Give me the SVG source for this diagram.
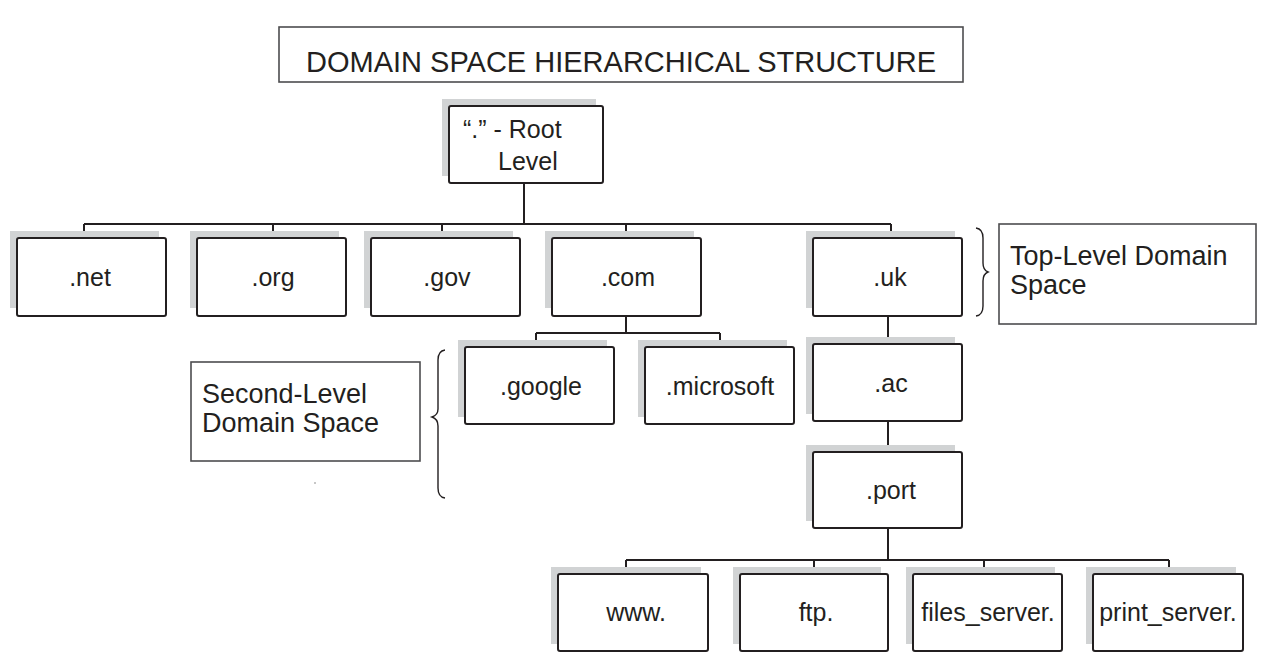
<svg xmlns="http://www.w3.org/2000/svg" width="1263" height="663" viewBox="0 0 1263 663">
<style>
.bg{fill:#ffffff}
.sh{fill:#d1d3d4}
.bx{fill:#ffffff;stroke:#231f20;stroke-width:2}
.lb{fill:#ffffff;stroke:#4d4d4f;stroke-width:1.6}
.t{font-family:"Liberation Sans",Arial,sans-serif;font-size:25px;fill:#231f20}
.tl{font-family:"Liberation Sans",Arial,sans-serif;font-size:27px;fill:#231f20}
.c{text-anchor:middle}
.ln{fill:none;stroke:#231f20;stroke-width:2}
.br{fill:none;stroke:#231f20;stroke-width:1.4}
</style>
<rect class="bg" x="0" y="0" width="1263" height="663"/>

<g id="title">
<rect class="lb" x="279" y="27" width="684" height="55"/>
<text class="t c" x="621" y="72" style="font-size:29px">DOMAIN SPACE HIERARCHICAL STRUCTURE</text>
</g>

<g id="connectors">
<path class="ln" d="M524 183V224M84 224H891M84 224V238M273 224V238M442 224V238M626 224V238M891 224V238"/>
<path class="ln" d="M626 316V333M536 333H720M536 333V347M720 333V347"/>
<path class="ln" d="M888 316V344M888 421V452M888 528V560M626 560H1169M626 560V574M814 560V574M984 560V574M1169 560V574"/>
</g>

<g id="root">
<rect class="sh" x="442" y="99" width="154" height="77"/>
<rect class="bx" x="449" y="106" width="154" height="77" rx="2"/>
<text class="t" x="463" y="138">“.” - Root</text>
<text class="t" x="498" y="170">Level</text>
</g>

<g id="net">
<rect class="sh" x="10" y="231" width="149" height="77"/>
<rect class="bx" x="17" y="238" width="149" height="78" rx="2"/>
<text class="t c" x="90" y="286">.net</text>
</g>
<g id="org">
<rect class="sh" x="190" y="231" width="149" height="77"/>
<rect class="bx" x="197" y="238" width="149" height="78" rx="2"/>
<text class="t c" x="273" y="286">.org</text>
</g>
<g id="gov">
<rect class="sh" x="364" y="231" width="149" height="77"/>
<rect class="bx" x="371" y="238" width="149" height="78" rx="2"/>
<text class="t c" x="447" y="286">.gov</text>
</g>
<g id="com">
<rect class="sh" x="545" y="231" width="149" height="77"/>
<rect class="bx" x="552" y="238" width="149" height="78" rx="2"/>
<text class="t c" x="628" y="286">.com</text>
</g>
<g id="uk">
<rect class="sh" x="806" y="231" width="149" height="77"/>
<rect class="bx" x="813" y="238" width="149" height="78" rx="2"/>
<text class="t c" x="890" y="286">.uk</text>
</g>

<g id="google">
<rect class="sh" x="458" y="340" width="149" height="77"/>
<rect class="bx" x="465" y="347" width="149" height="77" rx="2"/>
<text class="t c" x="541" y="395">.google</text>
</g>
<g id="microsoft">
<rect class="sh" x="638" y="340" width="149" height="77"/>
<rect class="bx" x="645" y="347" width="149" height="77" rx="2"/>
<text class="t c" x="720" y="395">.microsoft</text>
</g>

<g id="ac">
<rect class="sh" x="806" y="337" width="149" height="77"/>
<rect class="bx" x="813" y="344" width="149" height="77" rx="2"/>
<text class="t c" x="891" y="392">.ac</text>
</g>
<g id="port">
<rect class="sh" x="806" y="445" width="149" height="76"/>
<rect class="bx" x="813" y="452" width="149" height="76" rx="2"/>
<text class="t c" x="891" y="499">.port</text>
</g>

<g id="www">
<rect class="sh" x="551" y="567" width="150" height="77"/>
<rect class="bx" x="558" y="574" width="150" height="77" rx="2"/>
<text class="t c" x="636" y="621">www.</text>
</g>
<g id="ftp">
<rect class="sh" x="733" y="567" width="148" height="77"/>
<rect class="bx" x="740" y="574" width="148" height="77" rx="2"/>
<text class="t c" x="816" y="621">ftp.</text>
</g>
<g id="files_server">
<rect class="sh" x="906" y="567" width="149" height="77"/>
<rect class="bx" x="913" y="574" width="149" height="77" rx="2"/>
<text class="t c" x="988" y="621">files_server.</text>
</g>
<g id="print_server">
<rect class="sh" x="1086" y="567" width="150" height="77"/>
<rect class="bx" x="1093" y="574" width="150" height="77" rx="2"/>
<text class="t c" x="1168" y="621">print_server.</text>
</g>

<g id="tld-label">
<path class="br" d="M976 228Q983 229 983 238V263Q983 270 988 272Q983 274 983 281V306Q983 315 976 316"/>
<rect class="lb" x="999" y="224" width="257" height="100"/>
<text class="tl" x="1010" y="265">Top-Level Domain</text>
<text class="tl" x="1010" y="294">Space</text>
</g>

<g id="sld-label">
<path class="br" d="M445 350Q438 351 438 360V409Q438 415 432 417Q438 419 438 426V488Q438 497 445 498"/>
<rect class="lb" x="191" y="362" width="229" height="99"/>
<text class="tl" x="202" y="403">Second-Level</text>
<text class="tl" x="202" y="432">Domain Space</text>
<circle cx="315" cy="483" r="0.8" fill="#808080"/>
</g>
</svg>
